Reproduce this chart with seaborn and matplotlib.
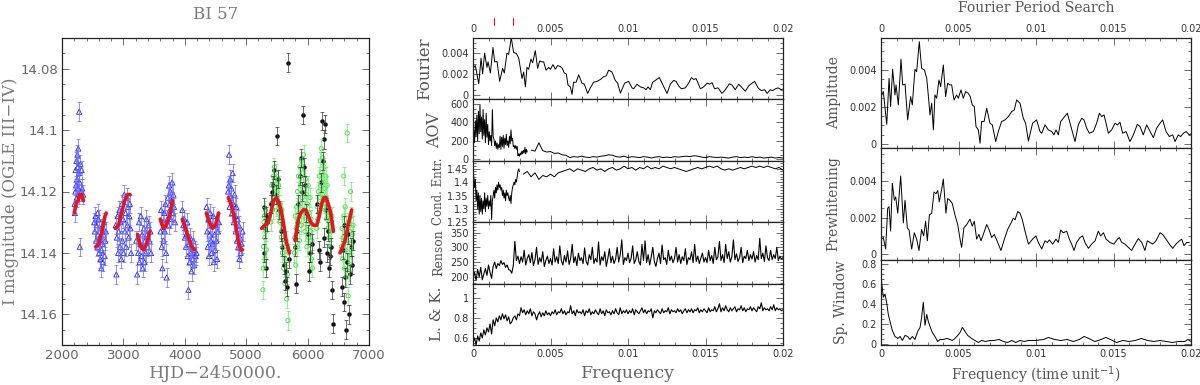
import numpy as np
import matplotlib
matplotlib.use("Agg")
import matplotlib.pyplot as plt
import seaborn as sns
from matplotlib.ticker import MultipleLocator, FuncFormatter

# ---------------- light curve (HJD-2450000, I mag) ----------------
blue_t = [2205, 2210, 2218, 2222, 2228, 2235, 2240, 2245, 2250, 2255, 2260, 2265, 2270, 2275, 2280, 2285, 2290, 2300, 2310, 2320, 2330, 2345,
          2525, 2535, 2545, 2555, 2565, 2575, 2585, 2595, 2605, 2615, 2625, 2635, 2645, 2655, 2665, 2675, 2685, 2695, 2705, 2715, 2580, 2640,
          2875, 2885, 2895, 2905, 2915, 2925, 2935, 2945, 2955, 2965, 2975, 2985, 2995, 3005, 3015, 3025, 3035, 3045, 3055, 3065, 3075, 3085, 3095, 3105, 3115, 3125,
          3210, 3225, 3240, 3255, 3265, 3275, 3285, 3295, 3305, 3315, 3325, 3335, 3345, 3355, 3365, 3375, 3385, 3395, 3410, 3425, 3440, 3450,
          3605, 3615, 3625, 3635, 3645, 3655, 3665, 3675, 3685, 3695, 3705, 3715, 3725, 3735, 3745, 3755, 3765, 3775, 3785, 3795, 3805, 3815, 3825, 3840,
          3960, 3975, 3990, 4000, 4010, 4020, 4030, 4040, 4050, 4060, 4070, 4080, 4090, 4100, 4110, 4120, 4130, 4140, 4150, 4160, 4175, 4190,
          4355, 4365, 4375, 4385, 4395, 4405, 4415, 4425, 4435, 4445, 4455, 4465, 4475, 4485, 4495, 4505, 4515, 4525, 4540, 4555,
          4705, 4715, 4722, 4730, 4740, 4750, 4760, 4770, 4780, 4790, 4800, 4810, 4820, 4830, 4840, 4850, 4860, 4870, 4880, 4890, 4900, 4910, 4925, 4940]
blue_mag = [14.124, 14.127, 14.120, 14.113, 14.118, 14.110, 14.122, 14.116, 14.108, 14.119, 14.112, 14.106, 14.121, 14.114, 14.094, 14.117, 14.138, 14.111, 14.120, 14.113, 14.119, 14.121,
            14.130, 14.133, 14.128, 14.136, 14.131, 14.138, 14.134, 14.129, 14.140, 14.135, 14.142, 14.132, 14.139, 14.137, 14.143, 14.134, 14.130, 14.141, 14.136, 14.133, 14.127, 14.145,
            14.131, 14.147, 14.135, 14.128, 14.140, 14.133, 14.126, 14.138, 14.130, 14.142, 14.124, 14.136, 14.129, 14.140, 14.121, 14.133, 14.127, 14.138, 14.122, 14.131, 14.125, 14.135, 14.128, 14.124, 14.132, 14.140,
            14.136, 14.147, 14.140, 14.130, 14.143, 14.137, 14.128, 14.141, 14.134, 14.145, 14.138, 14.132, 14.143, 14.136, 14.140, 14.129, 14.134, 14.138, 14.131, 14.136, 14.133, 14.140,
            14.133, 14.126, 14.138, 14.145, 14.130, 14.136, 14.127, 14.133, 14.124, 14.140, 14.148, 14.129, 14.122, 14.131, 14.118, 14.126, 14.120, 14.129, 14.123, 14.117, 14.127, 14.121, 14.125, 14.130,
            14.126, 14.131, 14.129, 14.135, 14.132, 14.138, 14.134, 14.130, 14.141, 14.152, 14.137, 14.143, 14.135, 14.140, 14.146, 14.138, 14.142, 14.136, 14.144, 14.139, 14.141, 14.140,
            14.125, 14.133, 14.138, 14.129, 14.141, 14.134, 14.127, 14.136, 14.140, 14.131, 14.137, 14.128, 14.143, 14.134, 14.139, 14.131, 14.136, 14.142, 14.133, 14.130,
            14.120, 14.118, 14.108, 14.125, 14.116, 14.122, 14.119, 14.127, 14.114, 14.124, 14.130, 14.121, 14.128, 14.133, 14.125, 14.136, 14.129, 14.138, 14.131, 14.142, 14.135, 14.140, 14.137, 14.133]

green_t = [5272, 5278, 5284, 5290, 5296, 5302, 5308, 5314, 5320, 5328,
           5400, 5410, 5420, 5430, 5440, 5450, 5460, 5470, 5480, 5490, 5500, 5510, 5520, 5530, 5540, 5550, 5560, 5570, 5580, 5590,
           5600, 5610, 5620, 5630, 5640, 5650, 5660, 5670, 5680, 5690,
           5785, 5792, 5800, 5808, 5815, 5822, 5830, 5838, 5845, 5852, 5860, 5868, 5875, 5882, 5890, 5898, 5905, 5912, 5920, 5928,
           5935, 5942, 5950, 5958, 5965, 5972, 5980, 5988, 5995, 6002, 6010, 6018, 6025, 6032, 6040, 6048, 6055, 6062, 6070, 6078,
           6150, 6158, 6166, 6174, 6182, 6190, 6198, 6206, 6214, 6222, 6230, 6238, 6246, 6254, 6262, 6270, 6278, 6286, 6294, 6302,
           6310, 6318, 6326, 6334, 6342, 6350, 6360, 6370, 6380, 6395,
           6550, 6560, 6570, 6580, 6590, 6600, 6610, 6620, 6630, 6640, 6650, 6660, 6670, 6680, 6690, 6700, 6710, 6720, 6730, 6740,
           6588, 6612, 6645, 6662, 6700]
green_mag = [14.152, 14.145, 14.138, 14.130, 14.128, 14.135, 14.142, 14.126, 14.133, 14.139,
             14.130, 14.124, 14.118, 14.126, 14.115, 14.121, 14.112, 14.119, 14.125, 14.114, 14.120, 14.116, 14.127, 14.118, 14.124, 14.130, 14.128, 14.135, 14.126, 14.140,
             14.133, 14.145, 14.138, 14.150, 14.142, 14.136, 14.155, 14.147, 14.162, 14.140,
             14.140, 14.135, 14.128, 14.144, 14.132, 14.125, 14.138, 14.120, 14.130, 14.115, 14.127, 14.136, 14.112, 14.124, 14.118, 14.131, 14.110, 14.122, 14.128, 14.114,
             14.108, 14.126, 14.119, 14.133, 14.116, 14.129, 14.121, 14.138, 14.124, 14.131, 14.118, 14.135, 14.127, 14.140, 14.122, 14.133, 14.129, 14.142, 14.136, 14.145,
             14.132, 14.125, 14.129, 14.120, 14.127, 14.115, 14.122, 14.110, 14.118, 14.106, 14.114, 14.121, 14.109, 14.117, 14.124, 14.112, 14.119, 14.126, 14.115, 14.122,
             14.129, 14.118, 14.125, 14.132, 14.128, 14.135, 14.130, 14.138, 14.133, 14.128,
             14.138, 14.132, 14.142, 14.135, 14.128, 14.145, 14.139, 14.131, 14.148, 14.136, 14.143, 14.130, 14.140, 14.146, 14.133, 14.141, 14.128, 14.137, 14.134, 14.131,
             14.115, 14.125, 14.101, 14.154, 14.120]

black_t = [5285, 5295, 5305, 5318, 5330, 5345, 5410, 5425, 5440, 5460, 5480, 5500, 5520, 5540, 5560, 5590,
           5620, 5640, 5655, 5665, 5680, 5700, 5790, 5810, 5830, 5850, 5880, 5900, 5915, 5930, 5945, 5960,
           5980, 6000, 6020, 6045, 6070, 6160, 6180, 6200, 6215, 6230, 6245, 6260, 6275, 6290, 6305,
           6320, 6335, 6350, 6365, 6385, 6400, 6420, 6555, 6570, 6585, 6600, 6615, 6625, 6640, 6655, 6670, 6690,
           6710, 6730, 6745]
black_mag = [14.125, 14.140, 14.132, 14.145, 14.128, 14.130, 14.124, 14.120, 14.118, 14.113, 14.121, 14.102, 14.116, 14.126, 14.133, 14.138,
             14.144, 14.149, 14.146, 14.151, 14.078, 14.142, 14.138, 14.150, 14.133, 14.124, 14.115, 14.109, 14.120, 14.095, 14.112, 14.118,
             14.127, 14.134, 14.146, 14.140, 14.137, 14.124, 14.139, 14.143, 14.117, 14.097, 14.110, 14.135, 14.103, 14.098, 14.126,
             14.140, 14.133, 14.145, 14.141, 14.138, 14.152, 14.163, 14.151, 14.139, 14.131, 14.156, 14.148, 14.165, 14.143, 14.134, 14.160, 14.147,
             14.138, 14.144, 14.136]
mag_err = 0.003

# fitted model, one piece per observing season
model_t = [[2200, 2230, 2260, 2290, 2320, 2350],
           [2550, 2600, 2650, 2700, 2720],
           [2870, 2920, 2970, 3020, 3070, 3110],
           [3230, 3280, 3330, 3380, 3430],
           [3600, 3650, 3700, 3750, 3800],
           [3960, 4010, 4060, 4110, 4160],
           [4350, 4400, 4450, 4500, 4550],
           [4710, 4750, 4790, 4830, 4870, 4910, 4940],
           [5252, 5300, 5361, 5400, 5443, 5497, 5540, 5578, 5620, 5649, 5703],
           [5795, 5850, 5890, 5931, 5970, 6013, 6050, 6094, 6148, 6190, 6230, 6265, 6300, 6335, 6365, 6400, 6420],
           [6528, 6570, 6610, 6660, 6718]]
model_mag = [[14.127, 14.124, 14.123, 14.121, 14.121, 14.123],
             [14.138, 14.137, 14.133, 14.128, 14.127],
             [14.132, 14.131, 14.127, 14.123, 14.121, 14.121],
             [14.134, 14.138, 14.139, 14.137, 14.133],
             [14.129, 14.132, 14.131, 14.128, 14.123],
             [14.129, 14.132, 14.135, 14.138, 14.139],
             [14.127, 14.130, 14.132, 14.131, 14.127],
             [14.122, 14.124, 14.127, 14.131, 14.136, 14.139, 14.139],
             [14.132, 14.131, 14.130, 14.127, 14.123, 14.122, 14.124, 14.127, 14.132, 14.136, 14.140],
             [14.136, 14.129, 14.127, 14.126, 14.126, 14.128, 14.130, 14.131, 14.131, 14.128, 14.124, 14.122, 14.122, 14.124, 14.126, 14.130, 14.133],
             [14.140, 14.138, 14.136, 14.131, 14.126]]

# ---------------- periodograms ----------------
amp_freq = [0, 0.00015, 0.00037, 0.00052, 0.00062, 0.00075, 0.00090, 0.00097, 0.00112, 0.00129,
            0.00140, 0.00155, 0.00172, 0.00191, 0.00202, 0.00219, 0.00230, 0.00247, 0.00262, 0.00280,
            0.00295, 0.00305, 0.00316, 0.00327, 0.00338, 0.00348, 0.00359, 0.00374, 0.00385, 0.00402,
            0.00417, 0.00430, 0.00445, 0.00456, 0.00471, 0.00488, 0.00499, 0.00516, 0.00531, 0.00546,
            0.00563, 0.00576, 0.00589, 0.00602, 0.00613, 0.00628, 0.00639, 0.00649, 0.00665, 0.00682,
            0.00703, 0.00718, 0.00740, 0.00757, 0.00778, 0.00800, 0.00822, 0.00843, 0.00860, 0.00875,
            0.00897, 0.00918, 0.00933, 0.00951,
            0.00978, 0.01004, 0.01026, 0.01037, 0.01058, 0.01080, 0.01101, 0.01116, 0.01129, 0.01144,
            0.01159, 0.01176, 0.01202, 0.01217, 0.01237, 0.01252, 0.01273, 0.01295, 0.01310, 0.01327,
            0.01344, 0.01370, 0.01391, 0.01409, 0.01424, 0.01439, 0.01452, 0.01467, 0.01488, 0.01510,
            0.01525, 0.01542, 0.01559, 0.01581, 0.01606, 0.01628, 0.01654, 0.01671, 0.01692, 0.01714,
            0.01731, 0.01757, 0.01778, 0.01800, 0.01817, 0.01839, 0.01860, 0.01882, 0.01897, 0.01918,
            0.01933, 0.01951, 0.01968, 0.01989, 0.02]
amp_val = [0.00256, 0.00283, 0.00106, 0.00355, 0.00202, 0.00404, 0.00265, 0.00319, 0.00211, 0.00458,
           0.00319, 0.00323, 0.00130, 0.00256, 0.00211, 0.00404, 0.00391, 0.00553, 0.00409, 0.00400,
           0.00355, 0.00265, 0.00157, 0.00220, 0.00076, 0.00265, 0.00247, 0.00346, 0.00310, 0.00427,
           0.00256, 0.00328, 0.00319, 0.00319, 0.00238, 0.00265, 0.00247, 0.00292, 0.00247, 0.00283,
           0.00274, 0.00256, 0.00211, 0.00202, 0.00094, 0.00076, 0.00004, 0.00121, 0.00121, 0.00193,
           0.00112, 0.00103, 0.00013, 0.00067, 0.00121, 0.00130, 0.00148, 0.00175, 0.00184, 0.00238,
           0.00220, 0.00139, 0.00112, 0.00016,
           0.00112, 0.00130, 0.00067, 0.00058, 0.00103, 0.00076, 0.00067, 0.00049, 0.00076, 0.00049,
           0.00121, 0.00139, 0.00166, 0.00121, 0.00058, 0.00013, 0.00103, 0.00139, 0.00130, 0.00085,
           0.00058, 0.00067, 0.00112, 0.00166, 0.00148, 0.00157, 0.00112, 0.00058, 0.00076, 0.00112,
           0.00103, 0.00117, 0.00058, 0.00067, 0.00013, 0.00049, 0.00106, 0.00094, 0.00049, 0.00103,
           0.00076, 0.00034, 0.00085, 0.00112, 0.00130, 0.00067, 0.00040, 0.00049, 0.00013, 0.00049,
           0.00040, 0.00058, 0.00067, 0.00049, 0.00055]

pw_freq = [0, 0.00004, 0.00015, 0.00030, 0.00043, 0.00052, 0.00062, 0.00073, 0.00086, 0.00095, 0.00108,
           0.00127, 0.00144, 0.00155, 0.00170, 0.00181, 0.00198, 0.00215, 0.00230, 0.00245, 0.00262,
           0.00275, 0.00288, 0.00299, 0.00312, 0.00327, 0.00342, 0.00355, 0.00366, 0.00376, 0.00391,
           0.00402, 0.00419, 0.00430, 0.00445, 0.00460, 0.00477, 0.00495, 0.00510, 0.00520, 0.00535,
           0.00553, 0.00574, 0.00589, 0.00602, 0.00617, 0.00632, 0.00645, 0.00660, 0.00682, 0.00697,
           0.00714, 0.00731, 0.00753, 0.00774, 0.00796, 0.00817, 0.00839, 0.00854, 0.00865, 0.00882,
           0.00897, 0.00912, 0.00929, 0.00951,
           0.00978, 0.00999, 0.01015, 0.01037, 0.01058, 0.01073, 0.01086, 0.01108, 0.01129, 0.01144,
           0.01159, 0.01176, 0.01198, 0.01215, 0.01230, 0.01245, 0.01262, 0.01284, 0.01301, 0.01316,
           0.01338, 0.01359, 0.01381, 0.01402, 0.01417, 0.01435, 0.01452, 0.01477, 0.01503, 0.01525,
           0.01538, 0.01553, 0.01574, 0.01596, 0.01617, 0.01639, 0.01660, 0.01682, 0.01703, 0.01718,
           0.01735, 0.01753, 0.01774, 0.01800, 0.01817, 0.01839, 0.01860, 0.01882, 0.01903, 0.01925,
           0.01940, 0.01955, 0.01972, 0.01989]
pw_val = [0.00090, 0.00082, 0.00091, 0.00028, 0.00251, 0.00260, 0.00126, 0.00388, 0.00295, 0.00313, 0.00224,
          0.00428, 0.00171, 0.00295, 0.00144, 0.00132, 0.00028, 0.00117, 0.00082, 0.00020, 0.00135,
          0.00100, 0.00180, 0.00073, 0.00215, 0.00224, 0.00340, 0.00331, 0.00348, 0.00286, 0.00352,
          0.00411, 0.00224, 0.00304, 0.00295, 0.00277, 0.00215, 0.00162, 0.00082, 0.00037, 0.00144,
          0.00162, 0.00192, 0.00153, 0.00180, 0.00082, 0.00108, 0.00073, 0.00108, 0.00162, 0.00135,
          0.00091, 0.00108, 0.00064, 0.00020, 0.00082, 0.00135, 0.00171, 0.00197, 0.00188, 0.00233,
          0.00224, 0.00188, 0.00126, 0.00055,
          0.00082, 0.00100, 0.00064, 0.00028, 0.00073, 0.00064, 0.00078, 0.00055, 0.00082, 0.00064,
          0.00132, 0.00117, 0.00126, 0.00082, 0.00055, 0.00020, 0.00064, 0.00091, 0.00100, 0.00064,
          0.00032, 0.00055, 0.00073, 0.00126, 0.00100, 0.00117, 0.00082, 0.00064, 0.00055, 0.00082,
          0.00091, 0.00064, 0.00055, 0.00037, 0.00020, 0.00055, 0.00085, 0.00064, 0.00020, 0.00073,
          0.00064, 0.00055, 0.00073, 0.00117, 0.00108, 0.00082, 0.00055, 0.00032, 0.00055, 0.00073,
          0.00082, 0.00046, 0.00064, 0.00064]

win_freq = [0, 0.00004, 0.00015, 0.00026, 0.00037, 0.00047, 0.00058, 0.00073, 0.00090, 0.00108,
            0.00123, 0.00138, 0.00155, 0.00172, 0.00187, 0.00202, 0.00219, 0.00237, 0.00252, 0.00262,
            0.00273, 0.00284, 0.00295, 0.00305, 0.00316, 0.00331, 0.00348, 0.00366, 0.00381, 0.00402,
            0.00424, 0.00445, 0.00460, 0.00477, 0.00495, 0.00510, 0.00525, 0.00542, 0.00559, 0.00585,
            0.00606, 0.00628, 0.00649, 0.00675, 0.00703, 0.00731, 0.00761, 0.00789, 0.00817, 0.00843,
            0.00869, 0.00897, 0.00925, 0.00951, 0.00983,
            0.0100, 0.0105, 0.0108, 0.0112, 0.0116, 0.0120, 0.0124, 0.0128, 0.0131, 0.0134,
            0.0138, 0.0142, 0.0145, 0.0148, 0.0152, 0.0156, 0.0160, 0.0164, 0.0168, 0.0172,
            0.0176, 0.0180, 0.0184, 0.0188, 0.0192, 0.0196, 0.0198, 0.0200]
win_val = [0.78, 0.62, 0.47, 0.50, 0.41, 0.30, 0.23, 0.14, 0.08, 0.06,
           0.08, 0.04, 0.09, 0.08, 0.05, 0.08, 0.05, 0.13, 0.17, 0.27,
           0.42, 0.19, 0.30, 0.23, 0.18, 0.12, 0.08, 0.03, 0.05, 0.05,
           0.06, 0.05, 0.04, 0.06, 0.09, 0.12, 0.17, 0.13, 0.09, 0.06,
           0.04, 0.02, 0.04, 0.03, 0.04, 0.04, 0.05, 0.03, 0.02, 0.04,
           0.02, 0.04, 0.03, 0.04, 0.04,
           0.04, 0.05, 0.07, 0.05, 0.04, 0.05, 0.03, 0.05, 0.08, 0.06,
           0.03, 0.05, 0.07, 0.05, 0.02, 0.04, 0.03, 0.04, 0.06, 0.04,
           0.03, 0.04, 0.03, 0.02, 0.03, 0.03, 0.05, 0.03]

# AOV and conditional entropy: fine grid at low frequency, coarser above
aov_freq_lo = np.linspace(0, 0.0035, 71)
aov_lo = [150, 320, 180, 420, 250, 480, 200, 520, 280, 590,
          300, 460, 220, 540, 260, 430, 180, 500, 240, 380,
          160, 300, 200, 260, 150, 540, 250, 220, 150, 200,
          120, 180, 110, 160, 130, 250, 110, 240, 140, 260,
          120, 230, 160, 270, 150, 200, 130, 250, 170, 320,
          200, 230, 140, 150, 120, 150, 110, 140, 40, 60,
          35, 70, 50, 90, 60, 100, 70, 130, 60, 110, 80]
aov_freq_hi = np.linspace(0.00375, 0.02, 66)
aov_hi = [100, 90, 180, 95, 80, 85, 65, 70, 50, 45,
          20, 30, 25, 35, 25, 20, 30, 25, 35, 40,
          50, 45, 30, 25, 35, 20, 30, 25, 20, 30,
          25, 15, 25, 30, 20, 25, 20, 30, 25, 30,
          35, 30, 40, 35, 25, 20, 30, 25, 20, 25,
          20, 15, 25, 30, 20, 25, 20, 30, 20, 25,
          15, 20, 25, 15, 20, 15]

ce_freq_lo = np.linspace(0, 0.003, 61)
ce_lo = [1.45, 1.42, 1.38, 1.41, 1.33, 1.37, 1.30, 1.36, 1.28, 1.35,
         1.29, 1.34, 1.28, 1.33, 1.30, 1.36, 1.29, 1.34, 1.31, 1.35,
         1.30, 1.33, 1.31, 1.35, 1.26, 1.33, 1.35, 1.37, 1.34, 1.38,
         1.36, 1.39, 1.37, 1.40, 1.38, 1.39, 1.37, 1.38, 1.35, 1.37,
         1.34, 1.36, 1.33, 1.37, 1.35, 1.36, 1.34, 1.33, 1.35, 1.32,
         1.36, 1.38, 1.39, 1.40, 1.39, 1.41, 1.40, 1.42, 1.44, 1.45, 1.44]
ce_freq_hi = np.linspace(0.00325, 0.02, 68)
ce_hi = [1.43, 1.44, 1.42, 1.435, 1.41, 1.425, 1.42, 1.43, 1.42, 1.435,
         1.44, 1.445, 1.45, 1.44, 1.45, 1.445, 1.44, 1.45, 1.455, 1.445,
         1.45, 1.44, 1.45, 1.455, 1.445, 1.45, 1.46, 1.45, 1.455, 1.445,
         1.455, 1.45, 1.46, 1.45, 1.455, 1.45, 1.46, 1.455, 1.45, 1.455,
         1.45, 1.445, 1.44, 1.445, 1.45, 1.455, 1.45, 1.455, 1.46, 1.455,
         1.46, 1.45, 1.445, 1.45, 1.445, 1.45, 1.455, 1.45, 1.455, 1.46,
         1.455, 1.46, 1.455, 1.46, 1.455, 1.45, 1.455, 1.445]

dense_freq = np.linspace(0, 0.02, 201)
renson = [195, 215, 188, 225, 200, 232, 190, 210, 228, 205,
          240, 215, 195, 235, 250, 228, 245, 238, 255, 242,
          248, 232, 240, 225, 222, 212, 238, 320, 255, 270,
          245, 268, 250, 290, 240, 262, 275, 248, 282, 238,
          258, 300, 242, 265, 250, 285, 235, 255, 270, 245,
          262, 240, 295, 250, 268, 245, 305, 255, 240, 272,
          250, 288, 242, 262, 310, 248, 268, 238, 280, 255,
          265, 245, 298, 252, 240, 275, 258, 300, 245, 262,
          250, 318, 240, 268, 255, 285, 235, 262, 295, 248,
          270, 245, 260, 300, 250, 275, 325, 242, 265, 255,
          280, 248, 262, 305, 245, 258, 285, 252, 240, 310,
          255, 322, 248, 275, 240, 268, 300, 252, 235, 262,
          280, 245, 308, 258, 265, 242, 290, 255, 270, 248,
          262, 300, 250, 275, 245, 268, 255, 295, 242, 265,
          258, 285, 248, 310, 252, 270, 245, 262, 280, 250,
          265, 248, 290, 255, 272, 245, 300, 258, 268, 320,
          255, 275, 248, 310, 262, 285, 250, 268, 325, 258,
          278, 252, 265, 300, 248, 270, 262, 290, 255, 275,
          260, 285, 250, 272, 258, 330, 262, 280, 252, 305,
          265, 255, 290, 258, 275, 262, 300, 255, 270, 260, 265]
lk = [0.55, 0.60, 0.53, 0.62, 0.57, 0.65, 0.60, 0.68, 0.63, 0.70,
      0.66, 0.74, 0.64, 0.78, 0.72, 0.80, 0.76, 0.82, 0.78, 0.84,
      0.79, 0.83, 0.77, 0.81, 0.74, 0.76, 0.80, 0.82, 0.78, 0.84,
      0.82, 0.90, 0.85, 0.88, 0.83, 0.87, 0.84, 0.89, 0.82, 0.86,
      0.84, 0.78, 0.83, 0.86, 0.81, 0.85, 0.82, 0.87, 0.83, 0.85,
      0.82, 0.86, 0.84, 0.88, 0.83, 0.86, 0.85, 0.89, 0.84, 0.87,
      0.83, 0.86, 0.85, 0.92, 0.84, 0.87, 0.82, 0.88, 0.85, 0.86,
      0.84, 0.88, 0.82, 0.87, 0.85, 0.89, 0.83, 0.86, 0.84, 0.88,
      0.85, 0.83, 0.89, 0.84, 0.87, 0.82, 0.88, 0.85, 0.86, 0.83,
      0.87, 0.84, 0.89, 0.85, 0.83, 0.90, 0.84, 0.87, 0.85, 0.88,
      0.84, 0.87, 0.85, 0.89, 0.83, 0.88, 0.86, 0.84, 0.87, 0.90,
      0.85, 0.88, 0.84, 0.87, 0.86, 0.89, 0.80, 0.87, 0.85, 0.88,
      0.86, 0.84, 0.89, 0.85, 0.87, 0.86, 0.90, 0.84, 0.88, 0.86,
      0.87, 0.85, 0.89, 0.86, 0.88, 0.84, 0.87, 0.89, 0.85, 0.88,
      0.86, 0.89, 0.85, 0.88, 0.87, 0.90, 0.85, 0.88, 0.86, 0.89,
      0.87, 0.85, 0.90, 0.86, 0.88, 0.87, 0.91, 0.86, 0.89, 0.94,
      0.86, 0.90, 0.87, 0.92, 0.88, 0.86, 0.90, 0.87, 0.89, 0.91,
      0.86, 0.89, 0.88, 0.92, 0.87, 0.90, 0.86, 0.89, 0.88, 0.91,
      0.87, 0.90, 0.88, 0.86, 0.91, 0.89, 0.95, 0.87, 0.90, 0.88,
      0.89, 0.87, 0.91, 0.88, 0.93, 0.87, 0.90, 0.88, 0.89, 0.87, 0.88]

peak_freqs = [0.00135, 0.00258]

# ---------------- styling ----------------
sns.set_style("ticks")
plt.rcParams["font.family"] = ["DejaVu Sans"]
SERIF = "DejaVu Serif"
LABEL_GREY = "#7a7a7a"
TICK_GREY = "#555555"
W, H = 1200, 385


def fmt_g(v, pos):
    if abs(v) < 1e-12:
        return "0"
    return "%g" % round(v, 6)


def style(ax, xmaj, xmin, ymaj, ymin, size=7):
    ax.xaxis.set_major_locator(MultipleLocator(xmaj))
    ax.xaxis.set_minor_locator(MultipleLocator(xmin))
    ax.yaxis.set_major_locator(MultipleLocator(ymaj))
    ax.yaxis.set_minor_locator(MultipleLocator(ymin))
    ax.xaxis.set_major_formatter(FuncFormatter(fmt_g))
    ax.yaxis.set_major_formatter(FuncFormatter(fmt_g))
    ax.tick_params(which="both", direction="in", top=True, right=True,
                   color=TICK_GREY, labelcolor="#333333", labelsize=size, width=0.6)
    ax.tick_params(which="major", length=5, pad=3)
    ax.tick_params(which="minor", length=2.5)
    for s in ax.spines.values():
        s.set_linewidth(0.9)
        s.set_color("#222222")


def px_axes(fig, x0, y0, x1, y1):
    return fig.add_axes([x0 / W, 1 - y1 / H, (x1 - x0) / W, (y1 - y0) / H])


def curve(ax, f, v, lw=0.7):
    sns.lineplot(x=f, y=v, ax=ax, color="black", lw=lw, estimator=None,
                 sort=False, legend=False)


fig = plt.figure(figsize=(12, 3.85), dpi=100)

# ---------------- left: light curve ----------------
ax = px_axes(fig, 62, 38, 369, 345)
ax.errorbar(blue_t, blue_mag, yerr=mag_err, fmt="none", ecolor="#6a6aff",
            elinewidth=0.5, capsize=1.5, capthick=0.5)
sns.scatterplot(x=blue_t, y=blue_mag, ax=ax, marker="^", s=14,
                facecolor="none", edgecolor="#2020ff", linewidth=0.6)
ax.errorbar(green_t, green_mag, yerr=mag_err, fmt="none", ecolor="#66ee66",
            elinewidth=0.5, capsize=1.5, capthick=0.5)
sns.scatterplot(x=green_t, y=green_mag, ax=ax, marker="o", s=9,
                facecolor="none", edgecolor="#33dd33", linewidth=0.6)
ax.errorbar(black_t, black_mag, yerr=mag_err, fmt="none", ecolor="#333333",
            elinewidth=0.5, capsize=1.5, capthick=0.5)
sns.scatterplot(x=black_t, y=black_mag, ax=ax, marker="o", s=8,
                color="black", edgecolor="black", linewidth=0.3)
for mt, mm in zip(model_t, model_mag):
    sns.lineplot(x=mt, y=mm, ax=ax, color="#e8141c", lw=2.6, estimator=None,
                 sort=False, legend=False)
ax.set_xlim(2000, 7000)
ax.set_ylim(14.17, 14.07)
style(ax, 1000, 200, 0.02, 0.005, size=9.5)
ax.tick_params(labelcolor="#666666")
ax.set_xlabel("HJD\u22122450000.", family=SERIF, fontsize=12.5, color=LABEL_GREY, labelpad=2)
ax.set_ylabel("I magnitude (OGLE III\u2212IV)", family=SERIF, fontsize=12, color=LABEL_GREY)
ax.yaxis.set_label_coords(-0.14, 0.5)
ax.set_title("BI 57", family=SERIF, fontsize=12, color=LABEL_GREY, pad=14)

# ---------------- middle: five period-search methods ----------------
mid_panels = [
    ("Fourier", [(amp_freq, amp_val)], (-0.00045, 0.0055), 0.002, 0.0005, 12, -0.13, 0.7),
    ("AOV", [(aov_freq_lo, aov_lo), (aov_freq_hi, aov_hi)], (-15, 650), 200, 50, 11.5, -0.095, 0.7),
    ("Cond. Entr.", [(ce_freq_lo, ce_lo), (ce_freq_hi, ce_hi)], (1.25, 1.48), 0.05, 0.01, 8.5, -0.09, 0.7),
    ("Renson", [(dense_freq, renson)], (177, 385), 50, 10, 9, -0.09, 0.8),
    ("L. & K.", [(dense_freq, lk)], (0.53, 1.14), 0.2, 0.05, 11, -0.095, 0.8),
]
ph = 307 / 5
for i, (name, series, ylim, ymaj, ymin, fs, lx, lw) in enumerate(mid_panels):
    ax = px_axes(fig, 473, 38 + i * ph, 783, 38 + (i + 1) * ph)
    for f, v in series:
        curve(ax, f, v, lw)
    ax.set_xlim(0, 0.02)
    ax.set_ylim(*ylim)
    style(ax, 0.005, 0.001, ymaj, ymin)
    ax.set_ylabel(name, family=SERIF, fontsize=fs, color="#555555")
    ax.yaxis.set_label_coords(lx, 0.5)
    ax.set_xlabel("")
    if i == 0:
        ax.tick_params(labeltop=True, labelbottom=False)
        for pf in peak_freqs:
            ax.plot([pf, pf], [1.21, 1.33], color="#e8141c", lw=0.8,
                    transform=ax.get_xaxis_transform(), clip_on=False)
    elif i == len(mid_panels) - 1:
        ax.set_xlabel("Frequency", family=SERIF, fontsize=12.5, color="#666666", labelpad=4)
    else:
        ax.tick_params(labelbottom=False)

# ---------------- right: Fourier period search ----------------
right_panels = [
    ("Amplitude", amp_freq, amp_val, 38, 148, (-0.00022, 0.00573), 0.002, 0.0005, -0.13),
    ("Prewhitening", pw_freq, pw_val, 148, 260, (-0.00032, 0.00581), 0.002, 0.0005, -0.13),
    ("Sp. Window", win_freq, win_val, 260, 345, (-0.005, 0.84), 0.2, 0.05, -0.105),
]
for i, (name, f, v, y0, y1, ylim, ymaj, ymin, lx) in enumerate(right_panels):
    ax = px_axes(fig, 881, y0, 1191, y1)
    curve(ax, f, v)
    ax.set_xlim(0, 0.02)
    ax.set_ylim(*ylim)
    style(ax, 0.005, 0.001, ymaj, ymin)
    ax.set_ylabel(name, family=SERIF, fontsize=10, color="#555555")
    ax.yaxis.set_label_coords(lx, 0.5)
    ax.set_xlabel("")
    if i == 0:
        ax.tick_params(labeltop=True, labelbottom=False)
        ax.set_title("Fourier Period Search", family=SERIF, fontsize=10,
                     color="#555555", pad=19)
    elif i == len(right_panels) - 1:
        ax.set_xlabel("Frequency (time unit$^{-1}$)", family=SERIF, fontsize=10,
                      color="#555555", labelpad=4)
    else:
        ax.tick_params(labelbottom=False)

fig.savefig("out.png", dpi=100)
